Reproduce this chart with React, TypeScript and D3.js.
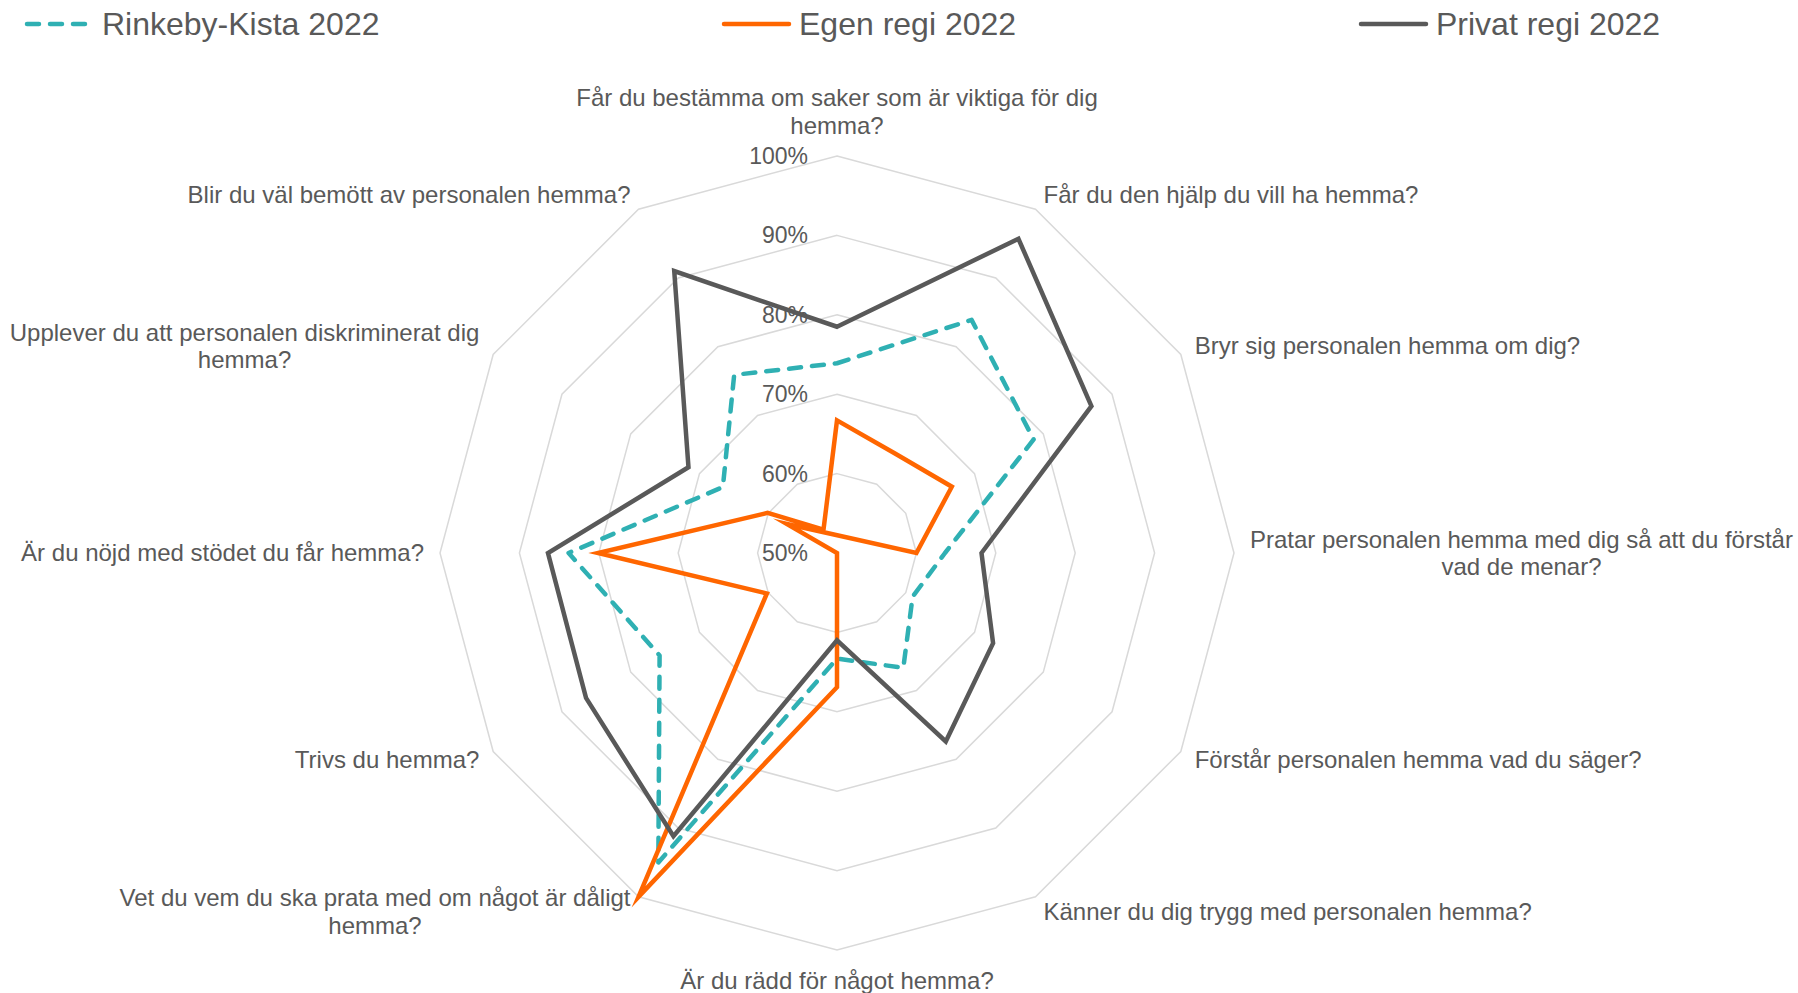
import { useEffect, useRef } from "react";
import * as d3 from "d3";

// axis labels, clockwise from the top ("\n" = where the original wraps)
const categories = [
  "Får du bestämma om saker som är viktiga för dig\nhemma?",
  "Får du den hjälp du vill ha hemma?",
  "Bryr sig personalen hemma om dig?",
  "Pratar personalen hemma med dig så att du förstår\nvad de menar?",
  "Förstår personalen hemma vad du säger?",
  "Känner du dig trygg med personalen hemma?",
  "Är du rädd för något hemma?",
  "Vet du vem du ska prata med om något är dåligt\nhemma?",
  "Trivs du hemma?",
  "Är du nöjd med stödet du får hemma?",
  "Upplever du att personalen diskriminerat dig\nhemma?",
  "Blir du väl bemött av personalen hemma?",
];

// values in percent
const rinkebyKista = [73.9, 83.9, 78.6, 63.6, 61.0, 66.7, 63.3, 95.0, 75.8, 83.8, 66.6, 75.9];
const egenRegi = [66.7, 64.5, 66.7, 60.0, 42.7, 50.0, 66.9, 100.0, 60.2, 80.1, 60.1, 53.4];
const privatRegi = [78.5, 95.7, 87.0, 68.2, 72.7, 77.4, 61.0, 91.2, 86.5, 86.4, 71.6, 91.0];

const seriesNames = ["Rinkeby-Kista 2022", "Egen regi 2022", "Privat regi 2022"];
const ticks = [50, 60, 70, 80, 90, 100];

const FONT = "'Liberation Sans', Arial, sans-serif";
const TEXT = "#595959";

export default function App() {
  const svgRef = useRef<SVGSVGElement | null>(null);

  useEffect(() => {
    if (!svgRef.current) return;
    document.body.style.margin = "0";

    const width = 1798;
    const height = 993;
    const cx = 837;
    const cy = 553;
    const R = 397;
    const labelSize = 24;
    const lineH = 27.6;

    const svg = d3.select(svgRef.current).attr("width", width).attr("height", height);
    svg.selectAll("*").remove();

    const r = d3.scaleLinear().domain([50, 100]).range([0, R]);
    const n = categories.length;
    const angle = (i: number) => (i * 2 * Math.PI) / n;

    const series = [
      { name: seriesNames[0], values: rinkebyKista, color: "#2FB0B3", dash: "12 11" },
      { name: seriesNames[1], values: egenRegi, color: "#FF6600", dash: null },
      { name: seriesNames[2], values: privatRegi, color: "#595959", dash: null },
    ];

    const radial = d3.lineRadial<number>()
      .angle((_, i) => angle(i))
      .radius(d => r(d))
      .curve(d3.curveLinearClosed);

    const g = svg.append("g").attr("transform", `translate(${cx},${cy})`);

    // grid rings
    g.selectAll(".ring")
      .data(ticks.filter(t => t > 50))
      .join("path")
      .attr("class", "ring")
      .attr("d", t => radial(categories.map(() => t)))
      .attr("fill", "none")
      .attr("stroke", "#d9d9d9")
      .attr("stroke-width", 1.5);

    // tick labels
    g.selectAll(".tick")
      .data(ticks)
      .join("text")
      .attr("class", "tick")
      .attr("x", -29)
      .attr("y", t => -r(t))
      .attr("dy", "0.35em")
      .attr("text-anchor", "end")
      .attr("fill", TEXT)
      .style("font-family", FONT)
      .style("font-size", "23px")
      .text(t => `${t}%`);

    // category labels
    categories.forEach((cat, i) => {
      const a = angle(i);
      const s = Math.sin(a);
      const c = Math.cos(a);
      const vx = R * s;
      const vy = -R * c;
      const lines = cat.split("\n");
      const h = lines.length * lineH;
      const topBottom = Math.abs(c) > 0.99;
      const midY = vy - c * 17 - (topBottom ? (c * h) / 2 : 0);

      const t = g.append("text")
        .attr("fill", TEXT)
        .style("font-family", FONT)
        .style("font-size", `${labelSize}px`);
      const spans = lines.map((ln, k) =>
        t.append("tspan")
          .attr("y", midY - h / 2 + lineH * (k + 0.5))
          .attr("dy", "0.35em")
          .text(ln)
      );
      const w = d3.max(spans, sp => (sp.node() as SVGTSpanElement).getComputedTextLength()) ?? 0;
      let x = vx;
      if (s > 0.1) x = vx + 16 * s + w / 2;
      else if (s < -0.1) x = vx + 16 * s - w / 2;
      spans.forEach(sp => sp.attr("x", x).attr("text-anchor", "middle"));
    });

    // series
    g.selectAll(".series")
      .data(series)
      .join("path")
      .attr("class", "series")
      .attr("d", d => radial(d.values))
      .attr("fill", "none")
      .attr("stroke", d => d.color)
      .attr("stroke-width", 4.5)
      .attr("stroke-dasharray", d => d.dash)
      .attr("stroke-linecap", d => (d.dash ? "round" : "butt"))
      .attr("stroke-linejoin", d => (d.dash ? "round" : "miter"))
      .attr("stroke-miterlimit", 10);

    // legend
    const legendX = [27, 724, 1361];
    const legend = svg.append("g").attr("transform", "translate(0,24)");
    series.forEach((d, i) => {
      const lg = legend.append("g").attr("transform", `translate(${legendX[i]},0)`);
      lg.append("line")
        .attr("x1", 0).attr("x2", 65).attr("y1", 0).attr("y2", 0)
        .attr("stroke", d.color)
        .attr("stroke-width", 4.5)
        .attr("stroke-linecap", "round")
        .attr("stroke-dasharray", d.dash);
      lg.append("text")
        .attr("x", 75)
        .attr("dy", "0.35em")
        .attr("fill", TEXT)
        .style("font-family", FONT)
        .style("font-size", "32px")
        .text(d.name);
    });
  }, []);

  return (
    <svg
      ref={svgRef}
      style={{ position: "absolute", left: 0, top: 0, display: "block", background: "#fff" }}
    ></svg>
  );
}
